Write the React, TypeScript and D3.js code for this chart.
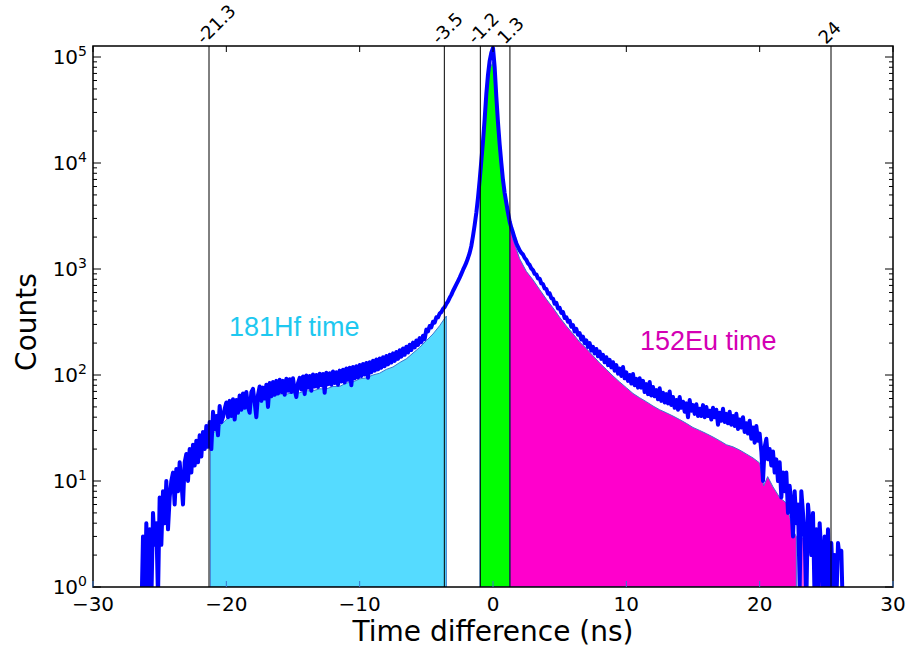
import React from 'react';
import * as d3 from 'd3';

// histogram of time difference, bins of 0.125 ns starting at -26.5 ns
const BIN_START = -26.5;
const BIN_WIDTH = 0.125;
const counts = [
  0.5, 0.5, 3, 0.6, // -26.5 .. -26.125
  4, 1, 3.5, 0.7, 5, 2.5, 4, 0.8, // -26
  7, 2.5, 8, 4, 10, 3.5, 7, 10, // -25
  12, 6, 13, 8, 15, 10, 6, 15, // -24
  18, 10, 20, 12, 22, 14, 24, 15, // -23
  27, 17, 29, 20, 33, 21, 36, 20, // -22
  45, 31, 41, 27, 51, 36, 40, 48, // -21
  55, 40, 57, 41, 59, 38, 58, 44, // -20
  64, 47, 67, 49, 69, 50, 44, 69, // -19
  74, 55, 40, 65, 78, 57, 76, 60, // -18
  81, 50, 84, 63, 86, 65, 88, 67, // -17
  90, 69, 88, 65, 92, 71, 91, 69, // -16
  93, 72, 62, 84, 94, 73, 97, 66, // -15
  99, 76, 98, 71, 101, 78, 100, 77, // -14
  103, 80, 102, 68, 105, 82, 104, 81, // -13
  108, 84, 106, 81, 110, 87, 112, 85, // -12
  115, 90, 117, 80, 119, 93, 121, 95, // -11
  124, 98, 127, 101, 130, 94, 132, 106, // -10
  136, 110, 140, 113, 143, 117, 147, 121, // -9
  151, 126, 155, 131, 160, 136, 165, 142, // -8
  171, 149, 178, 155, 185, 163, 193, 172, // -7
  202, 182, 212, 192, 223, 204, 235, 218, // -6
  268, 258, 290, 282, 318, 312, 350, 350, // -5
  380, 392, 420, 436, 470, 496, 535, 570, // -4
  620, 665, 715, 770, 830, 900, 980, 1060, // -3
  1150, 1270, 1420, 1650, 2050, 2600, 3400, 4700, // -2
  6900, 10500, 16000, 26000, 45000, 68000, 92000, 110000, // -1
  122000, 80000, 42000, 24000, 15000, 10000, 6900, 5200, // 0
  4200, 3400, 2800, 2450, 2200, 1950, 1750, 1620, // 1
  1500, 1420, 1370, 1270, 1220, 1130, 1090, 1010, // 2
  975, 900, 890, 815, 810, 730, 720, 655, // 3
  650, 585, 590, 530, 525, 470, 480, 425, // 4
  430, 385, 392, 345, 350, 318, 325, 285, // 5
  295, 258, 272, 240, 248, 216, 230, 200, // 6
  212, 184, 200, 170, 184, 160, 176, 150, // 7
  166, 142, 155, 132, 147, 124, 139, 118, // 8
  132, 110, 124, 103, 115, 98, 119, 93, // 9
  106, 88, 100, 83, 102, 80, 92, 76, // 10
  93, 76, 88, 69, 82, 66, 86, 64, // 11
  77, 63, 72, 59, 75, 57, 68, 55, // 12
  66, 54, 70, 52, 62, 49, 58, 47, // 13
  62, 49, 56, 45, 54, 40, 58, 46, // 14
  52, 43, 53, 41, 48, 41, 52, 40, // 15
  50, 41, 46, 38, 49, 40, 47, 34, // 16
  44, 37, 48, 36, 43, 35, 45, 34, // 17
  41, 33, 43, 31, 38, 32, 40, 29, // 18
  35, 28, 37, 25, 32, 23, 33, 24, // 19
  28, 19, 10, 21, 25, 16, 20, 14, // 20
  19, 12, 16, 10, 15, 7, 12, 8, // 21
  12, 5, 9, 6, 3, 8, 4, 6, // 22
  1, 8, 5, 3, 0.7, 6, 4, 2, // 23
  5, 0.7, 3.5, 1, 4, 2, 0.6, 3, // 24
  1, 3.5, 0.6, 2.6, 1, 2, 0.7, 2.6, // 25
  1.9, 2.2, 0.5, 0.5, 0.5 // 26 .. 26.5
];

// gated windows (smoothed spectra)
const hfFill: [number, number][] = [
  [-21.2, 25], [-21.0, 28], [-20.5, 33], [-20.0, 38], [-19.5, 43], [-19.0, 48],
  [-18.5, 52], [-18.0, 56], [-17.5, 59], [-17.0, 62], [-16.5, 63], [-16.0, 66],
  [-15.5, 66], [-15.0, 68], [-14.5, 68], [-14.0, 71], [-13.5, 71], [-13.0, 74],
  [-12.5, 74], [-12.0, 78], [-11.5, 78], [-11.0, 84], [-10.5, 86], [-10.0, 92],
  [-9.5, 94], [-9.0, 100], [-8.5, 104], [-8.0, 113], [-7.5, 119], [-7.0, 131],
  [-6.5, 142], [-6.0, 161], [-5.5, 182], [-5.0, 211], [-4.5, 244], [-4.0, 292],
  [-3.75, 325], [-3.5, 360]
];
const promptFill: [number, number][] = [
  [-0.98, 5500], [-0.75, 14000], [-0.5, 38000], [-0.25, 76000], [0.0, 90000],
  [0.25, 33000], [0.5, 12000], [0.75, 5800], [1.0, 3500], [1.27, 2600]
];
const euFill: [number, number][] = [
  [1.27, 2600], [1.5, 1900], [2.0, 1250], [2.5, 950], [3.0, 790], [3.5, 640],
  [4.0, 520], [4.5, 430], [5.0, 350], [5.5, 290], [6.0, 245], [6.5, 205],
  [7.0, 178], [7.5, 152], [8.0, 130], [8.5, 113], [9.0, 98], [9.5, 86],
  [10.0, 76], [10.5, 67], [11.0, 61], [11.5, 56], [12.0, 51], [12.5, 47],
  [13.0, 44], [13.5, 41], [14.0, 38], [14.5, 35], [15.0, 32], [15.5, 30],
  [16.0, 28], [16.5, 26], [17.0, 24], [17.5, 22], [18.0, 21], [18.5, 19.6],
  [19.0, 18], [19.5, 16.5], [20.0, 14.8], [20.3, 9], [20.6, 11], [21.0, 8.8],
  [21.5, 7], [22.0, 6.2], [22.5, 3.4], [22.75, 3]
];
const euExtraBars = [
  { x0: 23.0, x1: 23.4, c: 2.9 },
  { x0: 24.1, x1: 24.85, c: 1.9 }
];

const gateLines = [-21.3, -3.65, -0.95, 1.27, 25.35];
const gateLabels = ['-21.3', '-3.5', '-1.2', '1.3', '24'];

const xTicks = [-30, -20, -10, 0, 10, 20, 30];
const yDecades = [0, 1, 2, 3, 4, 5];

const W = 909, H = 648;
const L = 93, R = 893, T = 46, B = 587;

export default function App() {
  const x = d3.scaleLinear().domain([-30, 30]).range([L, R]);
  const y = d3.scaleLog().domain([1, 1.27e5]).range([B, T]);

  const pts: [number, number][] = counts.map((c, i) => [BIN_START + i * BIN_WIDTH, c]);
  const line = d3.line<[number, number]>().x(d => x(d[0])).y(d => y(d[1]));
  const area = d3.area<[number, number]>().x(d => x(d[0])).y0(B).y1(d => y(d[1]));

  const minor: number[] = [];
  yDecades.forEach(k => {
    for (let m = 2; m <= 9; m++) {
      const v = m * Math.pow(10, k);
      if (v < 1.27e5) minor.push(v);
    }
  });

  const font = 'DejaVu Sans, sans-serif';

  return (
    <svg width={W} height={H} style={{ position: 'absolute', left: 0, top: 0 }}>
      <rect width={W} height={H} fill="#fff" />
      <defs>
        <clipPath id="plot">
          <rect x={L} y={T} width={R - L} height={B - T} />
        </clipPath>
      </defs>
      <g clipPath="url(#plot)">
        <path d={area(hfFill) || ''} fill="#55dbff" stroke="#3a78d0" strokeWidth={1} />
        <path d={area(promptFill) || ''} fill="#00ff00" stroke="#3a78d0" strokeWidth={1} />
        <path d={area(euFill) || ''} fill="#ff00cc" stroke="#3a78d0" strokeWidth={1} />
        {euExtraBars.map((b, i) => (
          <rect key={i} x={x(b.x0)} y={y(b.c)} width={x(b.x1) - x(b.x0)} height={B - y(b.c)} fill="#ff55dd" />
        ))}
        <path d={line(pts) || ''} fill="none" stroke="#0000ff" strokeWidth={4} strokeLinejoin="round" />
        {gateLines.map((g, i) => (
          <line key={i} x1={x(g)} x2={x(g)} y1={T} y2={B} stroke="#000" strokeWidth={1} />
        ))}
      </g>
      {/* frame */}
      <rect x={L} y={T} width={R - L} height={B - T} fill="none" stroke="#000" strokeWidth={1.5} />
      {/* x ticks */}
      {xTicks.map(t => (
        <g key={t}>
          <line x1={x(t)} x2={x(t)} y1={B} y2={B - 6} stroke="#3a78d0" strokeWidth={1} />
          <line x1={x(t)} x2={x(t)} y1={T} y2={T + 6} stroke="#000" strokeWidth={1} />
          <text x={x(t)} y={611} textAnchor="middle" fontFamily={font} fontSize={20}>
            {t < 0 ? '\u2212' + Math.abs(t) : String(t)}
          </text>
        </g>
      ))}
      {/* y ticks */}
      {yDecades.map(k => (
        <g key={k}>
          <line x1={L} x2={L + 8} y1={y(Math.pow(10, k))} y2={y(Math.pow(10, k))} stroke="#000" strokeWidth={1} />
          <line x1={R} x2={R - 8} y1={y(Math.pow(10, k))} y2={y(Math.pow(10, k))} stroke="#000" strokeWidth={1} />
          <text x={87} y={y(Math.pow(10, k)) + 7} textAnchor="end" fontFamily={font} fontSize={20}>
            10<tspan dy={-8} fontSize={14}>{k}</tspan>
          </text>
        </g>
      ))}
      {minor.map(v => (
        <g key={v}>
          <line x1={L} x2={L + 4} y1={y(v)} y2={y(v)} stroke="#000" strokeWidth={1} />
          <line x1={R} x2={R - 4} y1={y(v)} y2={y(v)} stroke="#000" strokeWidth={1} />
        </g>
      ))}
      {/* gate labels */}
      {gateLines.map((g, i) => (
        <text key={i} transform={`translate(${x(g) - 5},${T - 1}) rotate(-45)`} fontFamily={font} fontSize={18}>
          {gateLabels[i]}
        </text>
      ))}
      <text x={229} y={336} fontFamily="Liberation Sans, Arial, sans-serif" fontSize={27} fill="#1ec8f0">181Hf time</text>
      <text x={640} y={350} fontFamily="Liberation Sans, Arial, sans-serif" fontSize={27} fill="#d400b4">152Eu time</text>
      <text x={(L + R) / 2} y={641} textAnchor="middle" fontFamily={font} fontSize={28}>Time difference (ns)</text>
      <text transform={`translate(36,322) rotate(-90)`} textAnchor="middle" fontFamily={font} fontSize={28}>Counts</text>
    </svg>
  );
}
